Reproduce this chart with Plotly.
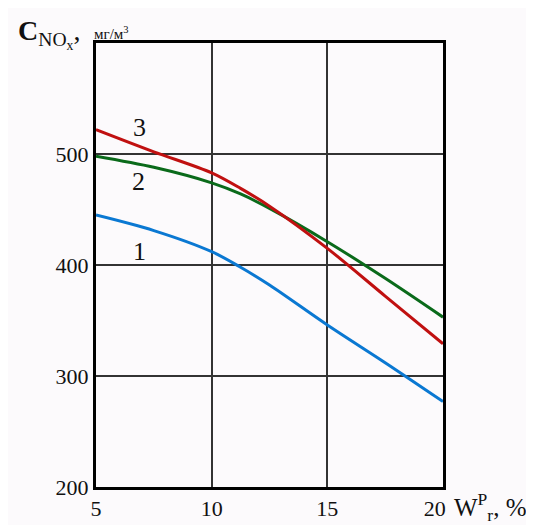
import plotly.graph_objects as go

w_vals = [5, 7.5, 10, 11.25, 12.5, 15, 17.5, 20]
c_curve1 = [445, 431, 412, 398, 382, 346, 312, 277]
c_curve2 = [498, 488, 474, 464, 451, 421, 388, 353]
c_curve3 = [522, 502, 483, 469, 453, 415, 372, 329]

x_ticks = [5, 10, 15, 20]
x_tick_text = ["5", "10", "15", "20\u00a0\u00a0\u00a0"]
y_ticks = [200, 300, 400, 500]
y_tick_text = ["200", "300", "400", "500"]

curve_labels = ["1", "2", "3"]
label_x = [6.9, 6.85, 6.9]
label_y = [412, 475, 524]

colors = ["#0a78d2", "#0a6a1a", "#c01010"]

fig = go.Figure()
for ys, col in zip([c_curve1, c_curve2, c_curve3], colors):
    fig.add_trace(go.Scatter(x=w_vals, y=ys, mode="lines",
                             line=dict(color=col, width=3, shape="spline", smoothing=0.9),
                             showlegend=False, hoverinfo="skip"))

for t, lx, ly in zip(curve_labels, label_x, label_y):
    fig.add_annotation(x=lx, y=ly, text=t, showarrow=False,
                       font=dict(family="Liberation Serif", size=26, color="#111"))

font_serif = "Liberation Serif"
fig.update_layout(
    width=534, height=525,
    margin=dict(l=88, r=99, t=35, b=40),
    paper_bgcolor="#fcfafc", plot_bgcolor="#fcfafc",
    xaxis=dict(range=[5, 20], tickvals=x_ticks, ticktext=x_tick_text,
               showgrid=True, gridcolor="#333", gridwidth=2,
               showline=True, linecolor="#000", linewidth=3, mirror=True,
               zeroline=False, ticks="", ticklen=0,
               tickfont=dict(family=font_serif, size=22, color="#111")),
    yaxis=dict(range=[200, 600], tickvals=y_ticks, ticktext=y_tick_text,
               showgrid=True, gridcolor="#333", gridwidth=2,
               showline=True, linecolor="#000", linewidth=3, mirror=True,
               zeroline=False, ticks="", ticklen=0,
               tickfont=dict(family=font_serif, size=22, color="#111")),
)

fig.add_annotation(xref="paper", yref="paper", x=-0.23, y=1.0, xanchor="left", yanchor="bottom",
                   yshift=-12,
                   text="<b>C</b><sub>NO<sub>x</sub></sub>,", showarrow=False,
                   font=dict(family=font_serif, size=28, color="#111"))
fig.add_annotation(xref="paper", yref="paper", x=-0.012, y=1.0, xanchor="left", yanchor="bottom",
                   yshift=-1,
                   text="мг/м<sup>3</sup>", showarrow=False,
                   font=dict(family=font_serif, size=15, color="#111"))
fig.add_annotation(xref="paper", yref="paper", x=1.025, y=0.0, xanchor="left", yanchor="top",
                   text="W<sup>P</sup><sub>r</sub>, %", showarrow=False,
                   font=dict(family=font_serif, size=25, color="#111"))

fig.write_html("out.html")
